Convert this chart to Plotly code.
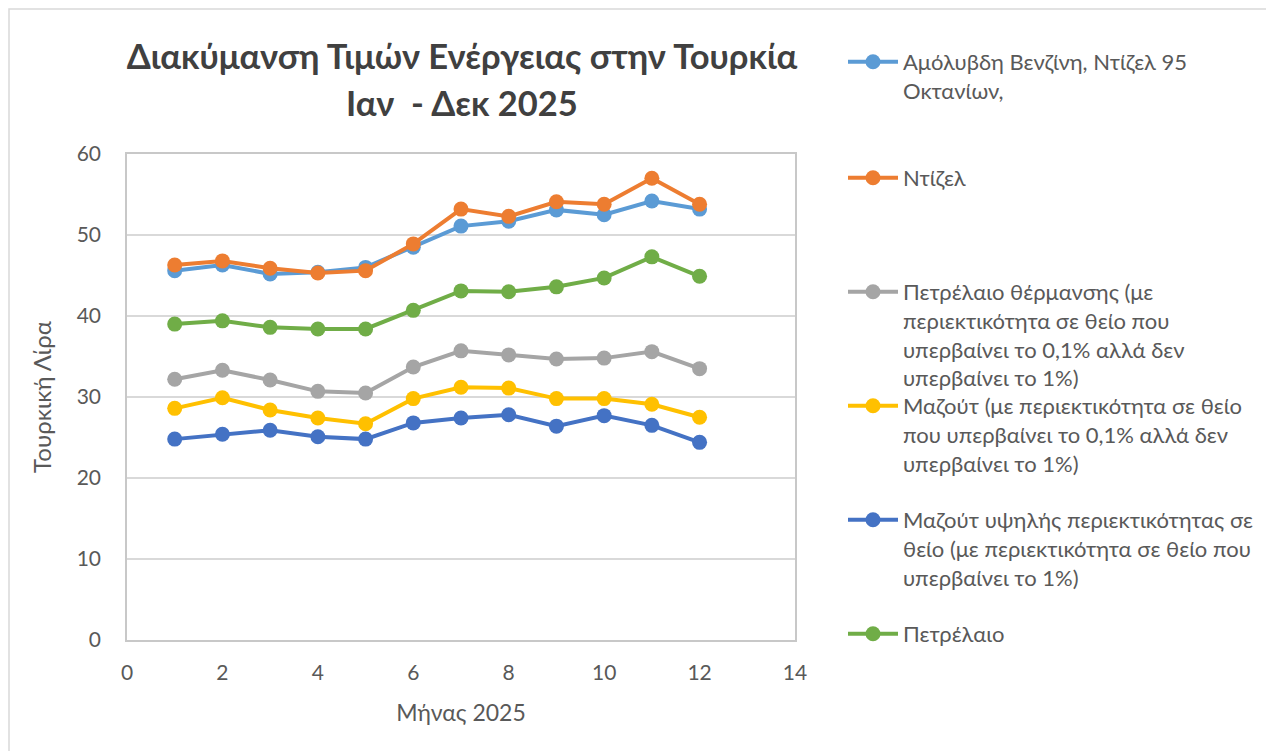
import plotly.graph_objects as go

months = [1, 2, 3, 4, 5, 6, 7, 8, 9, 10, 11, 12]

gasoline_95 = [45.6, 46.3, 45.2, 45.4, 46.0, 48.5, 51.1, 51.7, 53.1, 52.5, 54.2, 53.2]
diesel = [46.3, 46.8, 45.9, 45.3, 45.6, 48.9, 53.2, 52.3, 54.1, 53.8, 57.0, 53.8]
heating_oil = [32.2, 33.3, 32.1, 30.7, 30.5, 33.7, 35.7, 35.2, 34.7, 34.8, 35.6, 33.5]
fuel_oil_low = [28.6, 29.9, 28.4, 27.4, 26.7, 29.8, 31.2, 31.1, 29.8, 29.8, 29.1, 27.5]
fuel_oil_high = [24.8, 25.4, 25.9, 25.1, 24.8, 26.8, 27.4, 27.8, 26.4, 27.7, 26.5, 24.4]
petroleum = [39.0, 39.4, 38.6, 38.4, 38.4, 40.7, 43.1, 43.0, 43.6, 44.7, 47.3, 44.9]

names = [
    "Αμόλυβδη Βενζίνη, Ντίζελ 95<br>Οκτανίων,",
    "Ντίζελ",
    "Πετρέλαιο θέρμανσης (με<br>περιεκτικότητα σε θείο που<br>υπερβαίνει το 0,1% αλλά δεν<br>υπερβαίνει το 1%)",
    "Μαζούτ (με περιεκτικότητα σε θείο<br>που υπερβαίνει το 0,1% αλλά δεν<br>υπερβαίνει το 1%)",
    "Μαζούτ υψηλής περιεκτικότητας σε<br>θείο (με περιεκτικότητα σε θείο που<br>υπερβαίνει το 1%)",
    "Πετρέλαιο",
]
series = [gasoline_95, diesel, heating_oil, fuel_oil_low, fuel_oil_high, petroleum]
colors = ["#5B9BD5", "#ED7D31", "#A5A5A5", "#FFC000", "#4472C4", "#70AD47"]
legend_rows = [62, 178, 292, 406, 520, 634]  # reference rows of legend symbols

FONT = "Lato"
OFF = 8  # page body margin
W, H = 1274 - OFF, 751 - OFF
L, R, T, B = 127 - OFF, 795 - OFF, 154 - OFF, 640 - OFF
pw, ph = R - L, B - T

def py(yy):  # yy in reference pixel rows
    return (B - (yy - OFF)) / ph

def px(xx):
    return ((xx - OFF) - L) / pw

fig = go.Figure()
legends = {}
for i, (nm, s, c) in enumerate(zip(names, series, colors)):
    key = "legend" if i == 0 else f"legend{i+1}"
    fig.add_trace(go.Scatter(
        x=months, y=s, name=nm, mode="lines+markers",
        line=dict(color=c, width=4),
        marker=dict(color=c, size=15),
        legend=key,
    ))
    legends[key] = dict(
        x=px(843), xanchor="left",
        y=py(legend_rows[i] - 21), yanchor="top",
        bgcolor="rgba(0,0,0,0)",
        font=dict(family=FONT, size=22, color="#595959"),
        valign="top",
        itemwidth=50,
        tracegroupgap=0,
    )

fig.update_layout(
    width=W, height=H,
    margin=dict(l=L, r=W - R, t=T, b=H - B),
    paper_bgcolor="white", plot_bgcolor="white",
    showlegend=True,
    font=dict(family=FONT, color="#595959", size=20),
    title=dict(
        text="<b>Διακύμανση Τιμών Ενέργειας στην Τουρκία</b>",
        x=(462 - OFF) / W, xanchor="center", xref="container",
        y=1 - (57 - OFF) / H, yanchor="middle", yref="container",
        font=dict(family=FONT, size=34.5, color="#404040"),
    ),
    xaxis=dict(
        range=[0, 14], dtick=2, tick0=0,
        showgrid=False, zeroline=False,
        showline=True, linecolor="#C8C8C8", linewidth=1.5, mirror=True,
        ticks="", ticklabelstandoff=13,
        tickfont=dict(family=FONT, size=21, color="#595959"),
        title=dict(text="Μήνας 2025", font=dict(family=FONT, size=23, color="#595959"), standoff=22),
    ),
    yaxis=dict(
        range=[0, 60], dtick=10, tick0=0,
        showgrid=True, gridcolor="#D9D9D9", gridwidth=1.5,
        zeroline=False,
        showline=True, linecolor="#C8C8C8", linewidth=1.5, mirror=True,
        ticks="", ticklabelstandoff=20,
        tickfont=dict(family=FONT, size=21, color="#595959"),
        title=dict(text="Τουρκική Λίρα", font=dict(family=FONT, size=24, color="#595959"), standoff=18),
    ),
    **legends,
)

fig.add_annotation(
    text="<b>Ιαν  - Δεκ 2025</b>",
    xref="paper", yref="paper",
    x=px(462), y=py(102), xanchor="center", yanchor="middle",
    showarrow=False,
    font=dict(family=FONT, size=34.5, color="#404040"),
)

# outer chart border
fig.add_shape(
    type="rect", xref="paper", yref="paper",
    x0=px(9), x1=px(1300), y0=py(800), y1=py(9),
    line=dict(color="#D9D9D9", width=1.5), fillcolor="rgba(0,0,0,0)",
    layer="below",
)

fig.write_html("out.html")
